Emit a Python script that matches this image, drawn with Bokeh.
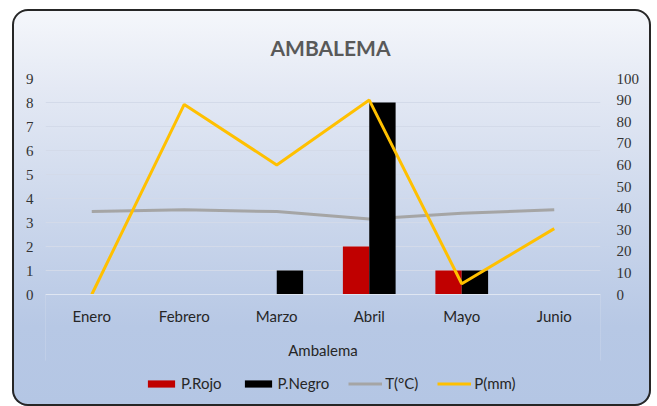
from bokeh.plotting import figure
from bokeh.models import Range1d, LinearAxis, FixedTicker, Legend, LegendItem, ColumnDataSource, BoxAnnotation
from bokeh.transform import dodge
from bokeh.embed import file_html
from bokeh.resources import INLINE

months = ["Enero", "Febrero", "Marzo", "Abril", "Mayo", "Junio"]
p_rojo = [0, 0, 0, 2, 1, 0]
p_negro = [0, 0, 1, 8, 1, 0]
temp_c = [38.4, 39.2, 38.4, 35.0, 37.6, 39.2]
precip_mm = [0, 88, 60, 90, 5, 30.5]
left_ticks = [0, 1, 2, 3, 4, 5, 6, 7, 8, 9]
right_ticks = [0, 10, 20, 30, 40, 50, 60, 70, 80, 90, 100]

idx = list(range(len(months)))
src = ColumnDataSource(dict(x=idx, rojo=p_rojo, negro=p_negro, t=temp_c, pmm=precip_mm))

# frame extends below zero so the category labels, axis title and legend sit inside it
p = figure(width=639, height=397, x_range=Range1d(-0.5, 5.5), y_range=Range1d(-4.29, 9),
           output_backend="svg", toolbar_location=None,
           min_border_left=33, min_border_right=51, min_border_top=69, min_border_bottom=9)
p.extra_y_ranges = {"right": Range1d(-47.68, 100)}

p.background_fill_alpha = 0
p.border_fill_alpha = 0
p.outline_line_color = None
p.styles = {
    "position": "relative",
    "left": "12px",
    "top": "9px",
    "background": "linear-gradient(to bottom, #f5f7fb 0%, #e4e9f4 20%, #cdd8ec 50%, #b7c8e5 80%, #b4c6e4 100%)",
    "border-radius": "16px",
    "box-shadow": "inset 0 0 0 2px #262626",
}

# title
p.title.text = "AMBALEMA"
p.title.align = "left"
p.title.offset = 225
p.title.text_font = "Lato"
p.title.text_font_size = "21px"
p.title.text_font_style = "bold"
p.title.text_color = "#595959"
p.title.standoff = 38

# grid
p.xgrid.visible = False
p.ygrid.grid_line_color = "#d3dae9"
p.ygrid.grid_line_width = 1

box_col = "#dfe6f2"
xa = p.xaxis[0]
xa.fixed_location = 0
xa.ticker = FixedTicker(ticks=idx)
xa.major_label_overrides = {i: m for i, m in zip(idx, months)}
xa.axis_line_color = box_col
xa.major_tick_line_color = None
xa.minor_tick_line_color = None
xa.major_tick_out = 0
xa.major_tick_in = 0
xa.minor_tick_out = 0
xa.minor_tick_in = 0
xa.major_label_standoff = 12
xa.major_label_text_font = "Lato"
xa.major_label_text_font_size = "15px"
xa.major_label_text_color = "#262626"
xa.axis_label = "Ambalema"
xa.axis_label_standoff = 13
xa.axis_label_text_font = "Lato"
xa.axis_label_text_font_size = "15px"
xa.axis_label_text_font_style = "normal"
xa.axis_label_text_color = "#262626"

ya = p.yaxis[0]
ya.ticker = FixedTicker(ticks=left_ticks)
ya.axis_line_color = None
ya.major_tick_line_color = None
ya.minor_tick_line_color = None
ya.major_tick_out = 0
ya.major_tick_in = 0
ya.major_label_standoff = 12
ya.major_label_text_font = "Liberation Serif"
ya.major_label_text_font_size = "15px"
ya.major_label_text_color = "#333333"

ra = LinearAxis(y_range_name="right", ticker=FixedTicker(ticks=right_ticks))
ra.axis_line_color = None
ra.major_tick_line_color = None
ra.minor_tick_line_color = None
ra.major_tick_out = 0
ra.major_tick_in = 0
ra.major_label_standoff = 16
ra.major_label_text_font = "Liberation Serif"
ra.major_label_text_font_size = "15px"
ra.major_label_text_color = "#333333"
p.add_layout(ra, "right")

# category-axis box side lines (Excel multi-level axis frame)
for edge in (-0.5, 5.5):
    p.add_layout(BoxAnnotation(left=edge, right=edge, top=0, bottom=-2.75,
                               fill_alpha=0, line_color=box_col, line_width=1,
                               level="underlay"))

bw = 0.285
r_t = p.line(x="x", y="t", source=src, y_range_name="right", line_color="#a5a5a5", line_width=3)
r_rojo = p.vbar(x=dodge("x", -bw / 2), top="rojo", width=bw, source=src, fill_color="#c00000", line_color=None)
r_negro = p.vbar(x=dodge("x", bw / 2), top="negro", width=bw, source=src, fill_color="#000000", line_color=None)
r_p = p.line(x="x", y="pmm", source=src, y_range_name="right", line_color="#ffc000", line_width=3)

legend = Legend(items=[
    LegendItem(label="P.Rojo", renderers=[r_rojo]),
    LegendItem(label="P.Negro", renderers=[r_negro]),
    LegendItem(label="T(°C)", renderers=[r_t]),
    LegendItem(label="P(mm)", renderers=[r_p]),
], orientation="horizontal", location=(99, 5))
legend.background_fill_alpha = 0
legend.border_line_color = None
legend.padding = 0
legend.margin = 0
legend.glyph_width = 34
legend.glyph_height = 9
legend.label_height = 9
legend.label_standoff = 3
legend.spacing = 19
legend.label_text_font = "Lato"
legend.label_text_font_size = "15px"
legend.label_text_color = "#262626"
p.add_layout(legend, "center")

open("out.html", "w").write(file_html(p, INLINE))
